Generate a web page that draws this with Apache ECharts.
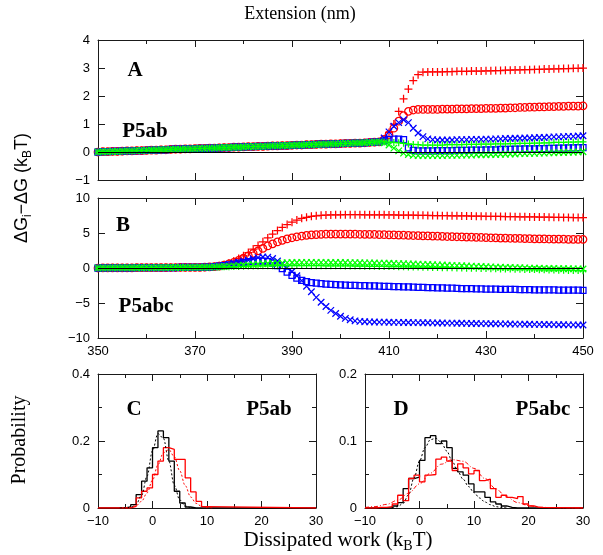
<!DOCTYPE html>
<html>
<head>
<meta charset="utf-8">
<script src="https://cdn.jsdelivr.net/npm/echarts@6/dist/echarts.min.js"></script>
<style>
  html, body { margin: 0; padding: 0; background: #fff; }
  #chart { width: 603px; height: 555px; }
</style>
</head>
<body>
<div id="chart"></div>
<script>
// ---------- Extension grid (nm), panels A and B ----------
const extension = [
  350,351,352,353,354,355,356,357,358,359,
  360,361,362,363,364,365,366,367,368,369,
  370,371,372,373,374,375,376,377,378,379,
  380,381,382,383,384,385,386,387,388,389,
  390,391,392,393,394,395,396,397,398,399,
  400,401,402,403,404,405,406,407,408,409,
  410,411,412,413,414,415,416,417,418,419,
  420,421,422,423,424,425,426,427,428,429,
  430,431,432,433,434,435,436,437,438,439,
  440,441,442,443,444,445,446,447,448,449,
  450
];

// ---------- Panel A (P5ab): ΔG_i − ΔG in k_BT ----------
const aRedPlus = [
  0.00,0.01,0.01,0.02,0.02,0.03,0.04,0.04,0.05,0.05,
  0.06,0.07,0.07,0.08,0.08,0.09,0.10,0.10,0.11,0.11,
  0.12,0.13,0.13,0.14,0.14,0.15,0.16,0.16,0.17,0.17,
  0.18,0.19,0.19,0.20,0.20,0.21,0.22,0.22,0.23,0.23,
  0.24,0.25,0.25,0.26,0.26,0.27,0.28,0.28,0.29,0.29,
  0.30,0.31,0.31,0.32,0.32,0.33,0.34,0.35,0.36,0.45,
  0.70,1.00,1.45,1.90,2.25,2.55,2.76,2.85,2.86,2.86,
  2.86,2.86,2.87,2.87,2.88,2.88,2.88,2.89,2.89,2.89,
  2.90,2.90,2.91,2.91,2.92,2.92,2.93,2.93,2.94,2.94,
  2.95,2.95,2.96,2.96,2.97,2.97,2.98,2.98,2.99,2.99,
  3.00
];
const aRedCircle = [
  0.00,0.01,0.01,0.02,0.02,0.03,0.04,0.04,0.05,0.05,
  0.06,0.07,0.07,0.08,0.08,0.09,0.10,0.10,0.11,0.11,
  0.12,0.13,0.13,0.14,0.14,0.15,0.16,0.16,0.17,0.17,
  0.18,0.19,0.19,0.20,0.20,0.21,0.22,0.22,0.23,0.23,
  0.24,0.25,0.25,0.26,0.26,0.27,0.28,0.28,0.29,0.29,
  0.30,0.31,0.31,0.32,0.32,0.33,0.34,0.35,0.36,0.45,
  0.62,0.85,1.10,1.30,1.45,1.50,1.52,1.52,1.52,1.52,
  1.52,1.53,1.53,1.53,1.54,1.54,1.54,1.55,1.55,1.55,
  1.56,1.56,1.56,1.57,1.57,1.58,1.58,1.59,1.59,1.60,
  1.60,1.61,1.61,1.62,1.62,1.63,1.63,1.64,1.64,1.64,
  1.65
];
const aBlueCross = [
  0.00,0.01,0.01,0.02,0.02,0.03,0.04,0.04,0.05,0.05,
  0.06,0.07,0.07,0.08,0.08,0.09,0.10,0.10,0.11,0.11,
  0.12,0.13,0.13,0.14,0.14,0.15,0.16,0.16,0.17,0.17,
  0.18,0.19,0.19,0.20,0.20,0.21,0.22,0.22,0.23,0.23,
  0.24,0.25,0.25,0.26,0.26,0.27,0.28,0.28,0.29,0.29,
  0.30,0.31,0.31,0.32,0.32,0.33,0.34,0.35,0.36,0.50,
  0.72,0.92,1.05,1.15,1.05,0.85,0.68,0.55,0.47,0.44,
  0.43,0.43,0.43,0.43,0.44,0.44,0.44,0.45,0.45,0.45,
  0.46,0.46,0.47,0.47,0.48,0.48,0.49,0.49,0.50,0.50,
  0.51,0.52,0.52,0.53,0.54,0.54,0.55,0.56,0.56,0.57,
  0.58
];
const aBlueSquare = [
  0.00,0.01,0.01,0.02,0.02,0.03,0.04,0.04,0.05,0.05,
  0.06,0.07,0.07,0.08,0.08,0.09,0.10,0.10,0.11,0.11,
  0.12,0.13,0.13,0.14,0.14,0.15,0.16,0.16,0.17,0.17,
  0.18,0.19,0.19,0.20,0.20,0.21,0.22,0.22,0.23,0.23,
  0.24,0.25,0.25,0.26,0.26,0.27,0.28,0.28,0.29,0.29,
  0.30,0.31,0.31,0.32,0.32,0.33,0.34,0.35,0.36,0.40,
  0.44,0.46,0.46,0.44,0.15,0.06,0.04,0.04,0.04,0.04,
  0.05,0.05,0.05,0.05,0.06,0.06,0.06,0.07,0.07,0.07,
  0.08,0.08,0.08,0.09,0.09,0.09,0.10,0.10,0.11,0.11,
  0.11,0.12,0.12,0.13,0.13,0.14,0.14,0.15,0.15,0.16,
  0.16
];
const aGreenPlus = [
  0.00,0.01,0.01,0.02,0.02,0.03,0.04,0.04,0.05,0.05,
  0.06,0.07,0.07,0.08,0.08,0.09,0.10,0.10,0.11,0.11,
  0.12,0.13,0.13,0.14,0.14,0.15,0.16,0.16,0.17,0.17,
  0.18,0.19,0.19,0.20,0.20,0.21,0.22,0.22,0.23,0.23,
  0.24,0.25,0.25,0.26,0.26,0.27,0.28,0.28,0.29,0.29,
  0.30,0.31,0.31,0.32,0.32,0.33,0.34,0.35,0.36,0.36,
  0.35,0.34,0.33,0.31,0.29,0.27,0.26,0.25,0.25,0.25,
  0.25,0.25,0.26,0.26,0.26,0.26,0.27,0.27,0.27,0.28,
  0.28,0.28,0.29,0.29,0.29,0.30,0.30,0.31,0.31,0.31,
  0.32,0.32,0.33,0.33,0.34,0.34,0.34,0.35,0.35,0.36,
  0.36
];
const aGreenCross = [
  0.00,0.01,0.01,0.02,0.02,0.03,0.04,0.04,0.05,0.05,
  0.06,0.07,0.07,0.08,0.08,0.09,0.10,0.10,0.11,0.11,
  0.12,0.13,0.13,0.14,0.14,0.15,0.16,0.16,0.17,0.17,
  0.18,0.19,0.19,0.20,0.20,0.21,0.22,0.22,0.23,0.23,
  0.24,0.25,0.25,0.26,0.26,0.27,0.28,0.28,0.29,0.29,
  0.30,0.31,0.31,0.32,0.32,0.33,0.34,0.35,0.36,0.33,
  0.25,0.14,0.04,-0.04,-0.09,-0.12,-0.13,-0.13,-0.13,-0.13,
  -0.13,-0.13,-0.12,-0.12,-0.12,-0.11,-0.11,-0.11,-0.10,-0.10,
  -0.10,-0.09,-0.09,-0.08,-0.08,-0.07,-0.07,-0.06,-0.06,-0.05,
  -0.05,-0.04,-0.04,-0.03,-0.03,-0.02,-0.02,-0.01,-0.01,0.00,
  0.01
];

// ---------- Panel B (P5abc) ----------
const bRedPlus = [
  0.00,0.01,0.01,0.02,0.02,0.03,0.03,0.03,0.04,0.04,
  0.05,0.05,0.05,0.06,0.06,0.07,0.07,0.08,0.08,0.09,
  0.09,0.10,0.11,0.15,0.22,0.32,0.48,0.70,1.00,1.35,
  1.75,2.20,2.70,3.20,3.75,4.30,4.85,5.35,5.80,6.20,
  6.55,6.85,7.10,7.25,7.38,7.46,7.52,7.56,7.58,7.60,
  7.60,7.61,7.61,7.61,7.61,7.60,7.60,7.60,7.60,7.59,
  7.58,7.58,7.57,7.56,7.55,7.54,7.53,7.52,7.51,7.50,
  7.49,7.48,7.47,7.46,7.45,7.44,7.43,7.42,7.41,7.40,
  7.39,7.38,7.37,7.36,7.35,7.34,7.33,7.32,7.31,7.30,
  7.29,7.28,7.27,7.26,7.25,7.24,7.23,7.22,7.21,7.20,
  7.20
];
const bRedCircle = [
  0.00,0.01,0.01,0.02,0.02,0.03,0.03,0.03,0.04,0.04,
  0.05,0.05,0.05,0.06,0.06,0.07,0.07,0.08,0.08,0.09,
  0.09,0.10,0.11,0.15,0.20,0.28,0.40,0.58,0.80,1.08,
  1.40,1.75,2.10,2.45,2.80,3.15,3.45,3.72,3.95,4.15,
  4.32,4.46,4.57,4.66,4.73,4.78,4.81,4.83,4.84,4.85,
  4.85,4.85,4.84,4.83,4.82,4.81,4.80,4.79,4.77,4.76,
  4.74,4.72,4.70,4.68,4.66,4.64,4.62,4.60,4.58,4.56,
  4.54,4.52,4.50,4.48,4.46,4.44,4.42,4.40,4.38,4.36,
  4.34,4.32,4.30,4.28,4.27,4.25,4.23,4.22,4.20,4.19,
  4.17,4.16,4.15,4.14,4.13,4.12,4.11,4.10,4.10,4.09,
  4.09
];
const bBlueCross = [
  0.00,0.01,0.01,0.02,0.02,0.03,0.03,0.03,0.04,0.04,
  0.05,0.05,0.05,0.06,0.06,0.07,0.07,0.08,0.08,0.09,
  0.09,0.10,0.11,0.15,0.22,0.30,0.40,0.52,0.66,0.82,
  0.98,1.15,1.32,1.48,1.58,1.55,1.35,1.00,0.55,0.05,
  -0.50,-1.10,-1.80,-2.60,-3.40,-4.20,-4.90,-5.50,-6.05,-6.50,
  -6.90,-7.20,-7.40,-7.55,-7.63,-7.68,-7.70,-7.72,-7.73,-7.74,
  -7.75,-7.76,-7.77,-7.78,-7.79,-7.80,-7.81,-7.82,-7.83,-7.84,
  -7.85,-7.86,-7.87,-7.88,-7.89,-7.90,-7.91,-7.92,-7.93,-7.94,
  -7.95,-7.96,-7.97,-7.98,-7.99,-8.00,-8.01,-8.02,-8.03,-8.04,
  -8.05,-8.06,-8.07,-8.08,-8.09,-8.10,-8.11,-8.12,-8.13,-8.14,
  -8.15
];
const bBlueSquare = [
  0.00,0.01,0.01,0.02,0.02,0.03,0.03,0.03,0.04,0.04,
  0.05,0.05,0.05,0.06,0.06,0.07,0.07,0.08,0.08,0.09,
  0.09,0.10,0.11,0.14,0.20,0.27,0.35,0.45,0.56,0.68,
  0.80,0.90,0.98,1.02,1.00,0.90,0.68,0.35,-0.10,-0.60,
  -1.05,-1.45,-1.75,-1.95,-2.08,-2.17,-2.24,-2.30,-2.35,-2.39,
  -2.42,-2.45,-2.47,-2.49,-2.51,-2.53,-2.55,-2.57,-2.59,-2.61,
  -2.63,-2.65,-2.67,-2.69,-2.71,-2.73,-2.75,-2.77,-2.79,-2.81,
  -2.83,-2.85,-2.87,-2.89,-2.91,-2.93,-2.95,-2.96,-2.98,-2.99,
  -3.01,-3.02,-3.03,-3.04,-3.05,-3.06,-3.07,-3.08,-3.09,-3.10,
  -3.11,-3.12,-3.13,-3.14,-3.14,-3.15,-3.16,-3.16,-3.17,-3.17,
  -3.18
];
const bGreenCross = [
  0.00,0.01,0.01,0.02,0.02,0.03,0.03,0.03,0.04,0.04,
  0.05,0.05,0.05,0.06,0.06,0.07,0.07,0.08,0.08,0.09,
  0.09,0.10,0.11,0.13,0.15,0.18,0.22,0.26,0.30,0.35,
  0.40,0.45,0.50,0.55,0.60,0.64,0.68,0.71,0.74,0.76,
  0.78,0.79,0.80,0.80,0.80,0.80,0.80,0.80,0.79,0.79,
  0.78,0.78,0.77,0.76,0.75,0.74,0.73,0.72,0.70,0.69,
  0.67,0.65,0.63,0.61,0.59,0.57,0.55,0.52,0.50,0.47,
  0.45,0.42,0.40,0.37,0.34,0.32,0.29,0.26,0.24,0.21,
  0.18,0.16,0.13,0.11,0.09,0.07,0.05,0.03,0.01,-0.01,
  -0.03,-0.04,-0.06,-0.07,-0.08,-0.09,-0.10,-0.11,-0.12,-0.13,
  -0.14
];
const bGreenPlus = [
  0.00,0.01,0.01,0.02,0.02,0.03,0.03,0.03,0.04,0.04,
  0.05,0.05,0.05,0.06,0.06,0.07,0.07,0.08,0.08,0.09,
  0.09,0.10,0.11,0.12,0.13,0.15,0.17,0.19,0.21,0.23,
  0.25,0.27,0.29,0.30,0.31,0.32,0.33,0.33,0.34,0.34,
  0.34,0.34,0.34,0.34,0.33,0.33,0.33,0.32,0.32,0.31,
  0.31,0.30,0.29,0.28,0.27,0.26,0.25,0.24,0.23,0.22,
  0.21,0.20,0.18,0.17,0.16,0.14,0.13,0.11,0.10,0.08,
  0.07,0.05,0.04,0.02,0.01,-0.01,-0.02,-0.04,-0.05,-0.07,
  -0.08,-0.10,-0.11,-0.13,-0.14,-0.16,-0.17,-0.19,-0.20,-0.22,
  -0.23,-0.25,-0.26,-0.28,-0.29,-0.31,-0.32,-0.34,-0.35,-0.37,
  -0.38
];

// ---------- Panel C (P5ab): dissipated-work histograms ----------
const cEdges = [-5,-4,-3,-2,-1,0,1,2,3,4,5,6,7,8,9,10];
const cBlackHist = [0.003,0.01,0.04,0.08,0.12,0.18,0.23,0.21,0.14,0.05,0.015,0.003,0,0,0];
const cRedHist   = [0,0.005,0.03,0.05,0.06,0.10,0.14,0.18,0.175,0.145,0.145,0.09,0.048,0.02,0.004];
const cBlackFitX = [-6,-5,-4,-3,-2,-1,0,1,2,3,4,5,6,7,8];
const cBlackFit  = [0,0.0003,0.0023,0.011,0.038,0.095,0.171,0.222,0.208,0.140,0.068,0.024,0.006,0.001,0];
const cRedFitX = [-5,-4,-3,-2,-1,0,1,2,3,4,5,6,7,8,9,10,11];
const cRedFit  = [0.0005,0.002,0.007,0.020,0.045,0.083,0.129,0.165,0.174,0.153,0.111,0.067,0.033,0.014,0.005,0.001,0];

// ---------- Panel D (P5abc) ----------
const dEdges = [-8,-7,-6,-5,-4,-3,-2,-1,0,1,2,3,4,5,6,7,8,9,10,11,12,13,14,15,16,17,18,19,20,21,22];
const dBlackHist = [0,0,0,0.003,0.008,0.029,0.044,0.046,0.071,0.105,0.108,0.096,0.100,0.090,0.059,
                    0.054,0.049,0.036,0.024,0.024,0.016,0.009,0.006,0.003,0.001,0,0,0,0,0];
const dRedHist   = [0.001,0.001,0.002,0.006,0.019,0.011,0.044,0.049,0.039,0.049,0.050,0.073,0.076,0.070,0.056,
                    0.066,0.060,0.051,0.056,0.041,0.043,0.029,0.016,0.019,0.016,0.014,0.017,0.006,0.003,0.001];
const dBlackFitX = [-5,-4,-3,-2,-1,0,1,2,3,4,5,6,7,8,9,10,11,12,13,14,15,16];
const dBlackFit  = [0,0.002,0.007,0.020,0.045,0.070,0.090,0.102,0.104,0.098,0.085,0.070,0.055,0.043,0.032,0.023,0.015,0.009,0.005,0.002,0.001,0];
const dRedFitX = [-10,-8,-6,-4,-2,0,2,4,6,8,10,12,14,16,18,20,22,24,26,28,30];
const dRedFit  = [0.0008,0.0022,0.0055,0.0117,0.022,0.036,0.052,0.0654,0.0722,0.0698,0.0592,0.044,0.0286,0.0163,0.0081,0.0036,0.0014,0.0005,0.0002,0.0001,0];

// Tick values carrying labels on the extension axis
const extensionMajorTicks = [350,370,390,410,430,450];

// ---------- styling helpers ----------
const AXIS_COLOR = '#1a1a1a';
const SANS = '"Liberation Sans", Arial, Helvetica, sans-serif';
const SERIF = '"Liberation Serif", "Times New Roman", Times, serif';
const RED = '#ff0000', BLUE = '#0000ff', GREEN = '#00ff00';

const SYM_PLUS   = 'path://M0,5L10,5M5,0L5,10';
const SYM_CROSS  = 'path://M0,0L10,10M10,0L0,10';
const SYM_CIRCLE = 'path://M10,5A5,5,0,1,1,0,5A5,5,0,1,1,10,5Z';
const SYM_SQUARE = 'path://M0,0L10,0L10,10L0,10Z';

function minusFmt(v) {
  return v < 0 ? '\u2212' + Math.abs(v) : String(v);
}

function axis(grid, position, min, max, interval, tick, label, extra) {
  return Object.assign({
    gridIndex: grid, type: 'value', position: position,
    min: min, max: max, interval: interval,
    splitLine: { show: false },
    axisLine: { show: true, onZero: false, lineStyle: { color: AXIS_COLOR, width: 1 } },
    axisTick: Object.assign({ show: true, inside: true, length: 7,
                              lineStyle: { color: AXIS_COLOR, width: 1 } }, tick || {}),
    axisLabel: label ? Object.assign({ show: true, fontFamily: SANS, fontSize: 13,
                                       color: '#000' }, label)
                     : { show: false }
  }, extra || {});
}

const minor = { minorTick: { show: true, splitNumber: 2, length: 4,
                             lineStyle: { color: AXIS_COLOR, width: 1 } } };

const xAxes = [];
const yAxes = [];
const axisIndex = {};

// Panels A (grid 0) and B (grid 1): extension axis
[0, 1].forEach(function (g) {
  const lbl = g === 1
    ? { margin: 7, formatter: function (v) { return (v - 350) % 20 === 0 ? String(v) : ''; } }
    : null;
  axisIndex['x' + g] = xAxes.length;
  xAxes.push(axis(g, 'bottom', 350, 450, 10, { length: 4 }, lbl));
  xAxes.push(axis(g, 'bottom', 350, 450, 10, { length: 7, customValues: extensionMajorTicks }, null,
                  { axisLine: { show: false, onZero: false } }));
  xAxes.push(axis(g, 'top', 350, 450, 10, { length: 4 }, null));
  xAxes.push(axis(g, 'top', 350, 450, 10, { length: 7, customValues: extensionMajorTicks }, null,
                  { axisLine: { show: false, onZero: false } }));
});
axisIndex.y0 = yAxes.length;
yAxes.push(axis(0, 'left', -1, 4, 1, null, { margin: 8, formatter: minusFmt }));
yAxes.push(axis(0, 'right', -1, 4, 1, null, null));
axisIndex.y1 = yAxes.length;
yAxes.push(axis(1, 'left', -10, 10, 5, null, { margin: 8, formatter: minusFmt }));
yAxes.push(axis(1, 'right', -10, 10, 5, null, null));

// Panels C (grid 2) and D (grid 3): dissipated work axis
[2, 3].forEach(function (g) {
  axisIndex['x' + g] = xAxes.length;
  xAxes.push(axis(g, 'bottom', -10, 30, 10, null, { margin: 7, formatter: minusFmt }, minor));
  xAxes.push(axis(g, 'top', -10, 30, 10, null, null, minor));
});
axisIndex.y2 = yAxes.length;
yAxes.push(axis(2, 'left', 0, 0.4, 0.2, null, { margin: 8 }, minor));
yAxes.push(axis(2, 'right', 0, 0.4, 0.2, null, null, minor));
axisIndex.y3 = yAxes.length;
yAxes.push(axis(3, 'left', 0, 0.2, 0.1, null, { margin: 8 }, minor));
yAxes.push(axis(3, 'right', 0, 0.2, 0.1, null, null, minor));

function pairs(xs, ys) {
  return xs.map(function (x, i) { return [x, ys[i]]; });
}

function markers(g, ys, symbol, size, color, extra) {
  return Object.assign({
    type: 'scatter',
    xAxisIndex: axisIndex['x' + g], yAxisIndex: axisIndex['y' + g],
    data: pairs(extension, ys),
    symbol: symbol, symbolSize: size,
    itemStyle: { color: 'rgba(0,0,0,0)', borderColor: color, borderWidth: 1.25, opacity: 1 },
    silent: true, animation: false
  }, extra || {});
}

const zeroLine = {
  silent: true, symbol: 'none', animation: false,
  label: { show: false },
  lineStyle: { color: '#000', width: 1, type: 'solid' },
  data: [{ yAxis: 0 }]
};

// Histogram outline: bars of unit width drawn as a step line along the axis
function histogram(g, edges, heights, color) {
  const pts = [[-10, 0]];
  heights.forEach(function (h, i) { pts.push([edges[i], h]); });
  pts.push([edges[edges.length - 1], 0]);
  pts.push([30, 0]);
  return {
    type: 'line', step: 'end', showSymbol: false, silent: true, animation: false,
    xAxisIndex: axisIndex['x' + g], yAxisIndex: axisIndex['y' + g],
    data: pts,
    lineStyle: { color: color, width: 1.3 }
  };
}

function fitCurve(g, xs, ys, color, dash) {
  return {
    type: 'line', smooth: 0.35, smoothMonotone: 'x', showSymbol: false, silent: true, animation: false,
    xAxisIndex: axisIndex['x' + g], yAxisIndex: axisIndex['y' + g],
    data: pairs(xs, ys),
    lineStyle: { color: color, width: 1, type: dash }
  };
}

const series = [
  // Panel A
  markers(0, aRedPlus, SYM_PLUS, 8, RED, { markLine: zeroLine }),
  markers(0, aRedCircle, SYM_CIRCLE, 7.5, RED),
  markers(0, aBlueCross, SYM_CROSS, 6.5, BLUE),
  markers(0, aBlueSquare, SYM_SQUARE, 6, BLUE),
  markers(0, aGreenPlus, SYM_PLUS, 7, GREEN),
  markers(0, aGreenCross, SYM_CROSS, 6.5, GREEN),
  // Panel B
  markers(1, bRedPlus, SYM_PLUS, 8, RED, { markLine: zeroLine }),
  markers(1, bRedCircle, SYM_CIRCLE, 7.5, RED),
  markers(1, bBlueCross, SYM_CROSS, 6.5, BLUE),
  markers(1, bBlueSquare, SYM_SQUARE, 6, BLUE),
  markers(1, bGreenPlus, SYM_PLUS, 7, GREEN),
  markers(1, bGreenCross, SYM_CROSS, 6.5, GREEN),
  // Panel C
  histogram(2, cEdges, cBlackHist, '#000'),
  histogram(2, cEdges, cRedHist, RED),
  fitCurve(2, cBlackFitX, cBlackFit, '#000', [2, 2]),
  fitCurve(2, cRedFitX, cRedFit, RED, [2, 2]),
  // Panel D
  histogram(3, dEdges, dBlackHist, '#000'),
  histogram(3, dEdges, dRedHist, RED),
  fitCurve(3, dBlackFitX, dBlackFit, '#000', [2, 2]),
  fitCurve(3, dRedFitX, dRedFit, RED, [4, 2, 1, 2])
];

function label(text, x, y, size, opts) {
  return Object.assign({
    type: 'text', x: x, y: y, silent: true,
    style: Object.assign({
      text: text, fill: '#000', fontFamily: SERIF, fontSize: size,
      align: 'center', verticalAlign: 'middle',
      textAlign: 'center', textVerticalAlign: 'middle'
    }, (opts && opts.style) || {})
  }, (opts && opts.el) || {});
}

function bold(text, x, y) {
  return label(text, x, y, 21, { style: { fontWeight: 'bold' } });
}

const graphic = [
  label('Extension (nm)', 300, 14, 18),
  label('Probability', 20, 440, 20, { el: { rotation: Math.PI / 2 } }),
  {
    type: 'text', x: 22, y: 188, rotation: Math.PI / 2, silent: true,
    style: {
      text: '{n|\u0394G}{s|i}{n|\u2212\u0394G (k}{s|B}{n|T)}',
      fill: '#000', fontFamily: SANS, fontSize: 18,
      align: 'center', verticalAlign: 'middle',
      textAlign: 'center', textVerticalAlign: 'middle',
      rich: {
        n: { fontFamily: SANS, fontSize: 18, lineHeight: 24, fill: '#000', color: '#000' },
        s: { fontFamily: SANS, fontSize: 12, lineHeight: 12, fill: '#000', color: '#000',
             verticalAlign: 'bottom' }
      }
    }
  },
  {
    type: 'text', x: 338, y: 540, silent: true,
    style: {
      text: '{n|Dissipated work (k}{s|B}{n|T)}',
      fill: '#000', fontFamily: SERIF, fontSize: 21,
      align: 'center', verticalAlign: 'middle',
      textAlign: 'center', textVerticalAlign: 'middle',
      rich: {
        n: { fontFamily: SERIF, fontSize: 21, lineHeight: 26, fill: '#000', color: '#000' },
        s: { fontFamily: SERIF, fontSize: 14, lineHeight: 14, fill: '#000', color: '#000',
             verticalAlign: 'bottom' }
      }
    }
  },
  bold('A', 135, 71),
  bold('P5ab', 145, 132),
  bold('B', 123, 226),
  bold('P5abc', 146, 307),
  bold('C', 134, 410),
  bold('P5ab', 269, 410),
  bold('D', 401, 410),
  bold('P5abc', 543, 410)
];

const chart = echarts.init(document.getElementById('chart'), null, { renderer: 'canvas' });
chart.setOption({
  animation: false,
  backgroundColor: '#ffffff',
  grid: [
    { left: 98, top: 40, width: 485, height: 140 },
    { left: 98, top: 198, width: 485, height: 140 },
    { left: 98, top: 374, width: 218, height: 134 },
    { left: 365, top: 374, width: 218, height: 134 }
  ],
  xAxis: xAxes,
  yAxis: yAxes,
  series: series,
  graphic: graphic
});
</script>
</body>
</html>
